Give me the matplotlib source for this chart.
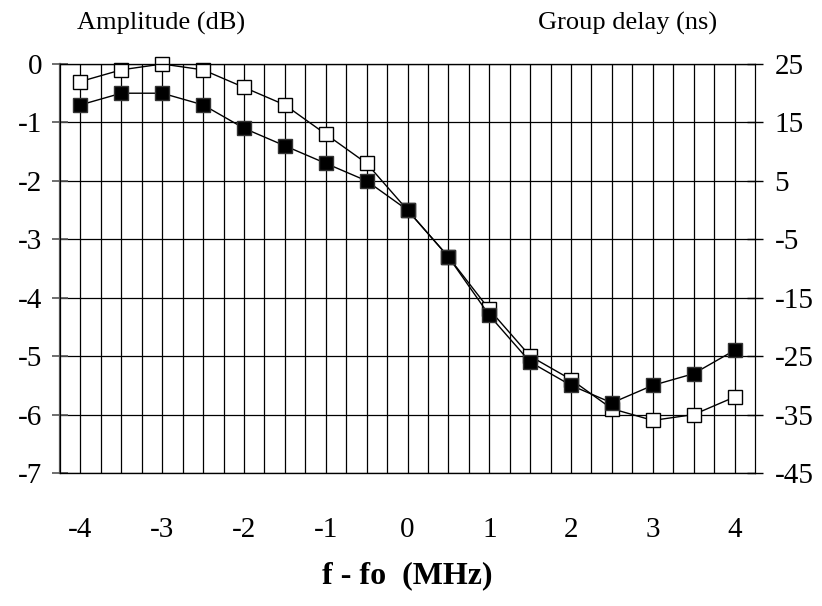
import numpy as np
import matplotlib
matplotlib.use("Agg")
import matplotlib.pyplot as plt

plt.rcParams["font.family"] = ["Liberation Serif", "DejaVu Serif"]
plt.rcParams["axes.unicode_minus"] = False

freq = [-4, -3.5, -3, -2.5, -2, -1.5, -1, -0.5, 0, 0.5, 1, 1.5, 2, 2.5, 3, 3.5, 4]
amplitude = [-0.3, -0.1, 0.0, -0.1, -0.4, -0.7, -1.2, -1.7, -2.5, -3.3, -4.2,
             -5.0, -5.4, -5.9, -6.1, -6.0, -5.7]
delay = [18, 20, 20, 18, 14, 11, 8, 5, 0, -8, -18, -26, -30, -33, -30, -28, -24]

amp_ticks = [0, -1, -2, -3, -4, -5, -6, -7]
delay_ticks = [25, 15, 5, -5, -15, -25, -35, -45]
freq_ticks = [-4, -3, -2, -1, 0, 1, 2, 3, 4]


def main():
    fig = plt.figure(figsize=(8.22, 6.06), dpi=100)
    ax = fig.add_axes([60 / 822, 133 / 606, 695 / 822, 409 / 606])

    ax.set_xlim(-4.25, 4.25)
    ax.set_ylim(-7, 0)
    ax.set_xticks(freq_ticks)
    ax.set_xticks(np.arange(-4, 4.01, 0.25), minor=True)
    ax.set_yticks(amp_ticks)
    ax.grid(which="both", axis="x", color="black", lw=0.9)
    ax.grid(which="major", axis="y", color="black", lw=0.9)
    ax.tick_params(axis="x", which="both", length=0, pad=32, labelsize=21)
    ax.tick_params(axis="y", direction="inout", length=12, width=1.2,
                   pad=7, labelsize=21, color="#555555")
    for side in ["top", "bottom"]:
        ax.spines[side].set_linewidth(0.9)
    ax.spines["left"].set_color("#555555")
    ax.spines["left"].set_linewidth(1.6)

    # amplitude on the left scale, open squares
    ax.plot(freq, amplitude, marker="s", color="black", lw=1,
            mfc="white", mec="black", ms=10, mew=1, clip_on=False)

    # group delay on the right scale, filled squares
    ax2 = ax.twinx()
    ax2.set_ylim(-45, 25)
    ax2.set_yticks(delay_ticks)
    ax2.tick_params(axis="y", direction="inout", length=12, width=1,
                    pad=8, labelsize=21)
    ax2.plot(freq, delay, marker="s", color="black", lw=1,
             mfc="black", mec="#333333", ms=10, mew=1, clip_on=False)

    fig.text(77 / 822, 1 - 23 / 606, "Amplitude (dB)", fontsize=19,
             ha="left", va="center")
    fig.text(538 / 822, 1 - 23 / 606, "Group delay (ns)", fontsize=19,
             ha="left", va="center")
    fig.text(407 / 822, 1 - 576 / 606, "f - fo  (MHz)", fontsize=23,
             fontweight="bold", ha="center", va="center")

    fig.savefig("out.png", dpi=100)


if __name__ == "__main__":
    main()
